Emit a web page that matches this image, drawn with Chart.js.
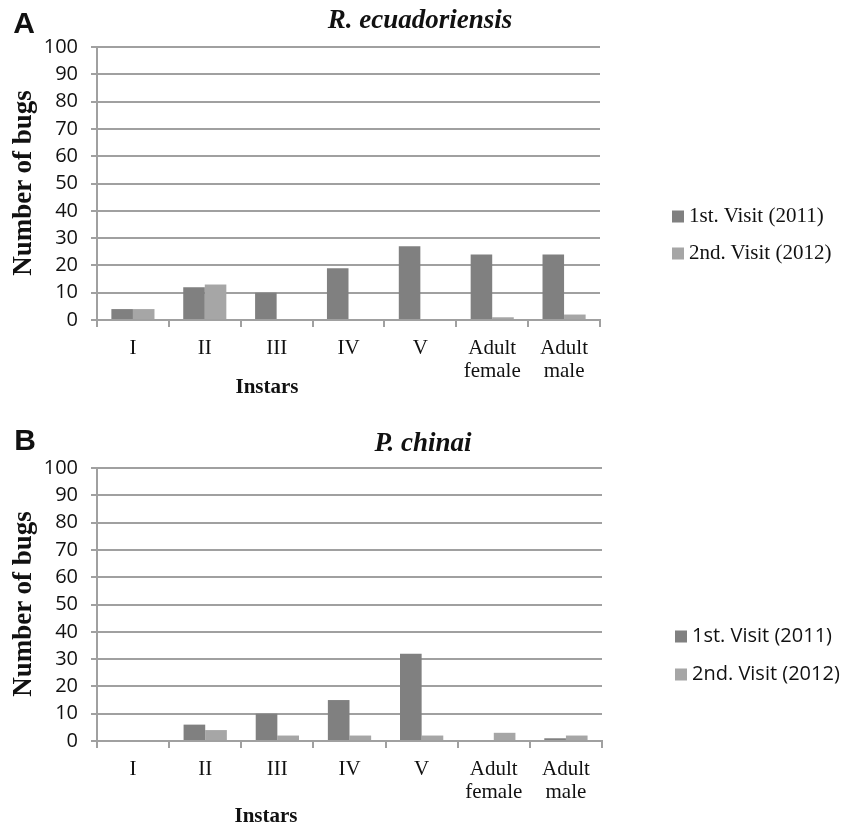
<!DOCTYPE html>
<html>
<head>
<meta charset="utf-8">
<script src="https://cdn.jsdelivr.net/npm/chart.js@4.4.1/dist/chart.umd.min.js"></script>
<style>
    body { margin: 0; background: #fff; }
    #page { position: relative; width: 845px; height: 823px; overflow: hidden; }
    .panel { position: absolute; left: 0; width: 845px; }
    .panel canvas { position: absolute; left: 0; top: 0; }
    .txt { position: absolute; white-space: nowrap; line-height: 1; color: #111; transform: translate(-50%, -50%); }
    .letter { font: bold 30px "Liberation Sans", Arial, sans-serif; }
    .title { font: italic bold 27px "Liberation Serif", "Times New Roman", serif; }
    .ytitle { font: bold 27px "Liberation Serif", "Times New Roman", serif; transform: translate(-50%, -50%) rotate(-90deg); }
    .xtitle { font: bold 21px "Liberation Serif", "Times New Roman", serif; }
    .leg { position: absolute; white-space: nowrap; line-height: 1; color: #111; transform: translateY(-50%); }
    .leg i { display: inline-block; width: 12px; height: 12px; margin-right: 5px; vertical-align: -1px; }
    .serif { font: 21px "Liberation Serif", "Times New Roman", serif; }
    .sans { font: 20px "Open Sans", sans-serif; }
</style>
</head>
<body>
<div id="page">
    <div class="panel" id="panelA" style="top:0;height:411px;">
        <canvas id="chartA" width="845" height="411"></canvas>
        <div class="txt letter" style="left:24px;top:23px;">A</div>
        <div class="txt title" style="left:420px;top:19px;">R. ecuadoriensis</div>
        <div class="txt ytitle" style="left:22px;top:183px;">Number of bugs</div>
        <div class="txt xtitle" style="left:267px;top:386px;">Instars</div>
        <div class="leg serif" id="legA1" style="left:672px;top:215px;"></div>
        <div class="leg serif" id="legA2" style="left:672px;top:252px;"></div>
    </div>
    <div class="panel" id="panelB" style="top:411px;height:412px;">
        <canvas id="chartB" width="845" height="412"></canvas>
        <div class="txt letter" style="left:25px;top:29px;">B</div>
        <div class="txt title" style="left:423px;top:31px;">P. chinai</div>
        <div class="txt ytitle" style="left:22px;top:193px;">Number of bugs</div>
        <div class="txt xtitle" style="left:266px;top:404px;">Instars</div>
        <div class="leg sans" id="legB1" style="left:675px;top:223px;"></div>
        <div class="leg sans" id="legB2" style="left:675px;top:261px;"></div>
    </div>
</div>
<script>
// categories (x axis)
var instars = ['I', 'II', 'III', 'IV', 'V', ['Adult', 'female'], ['Adult', 'male']];
var seriesNames = ['1st. Visit (2011)', '2nd. Visit (2012)'];
var seriesColors = ['#808080', '#a6a6a6'];

// A: R. ecuadoriensis
var visit1A = [4, 12, 10, 19, 27, 24, 24];
var visit2A = [4, 13, 0, 0, 0, 1, 2];

// B: P. chinai
var visit1B = [0, 6, 10, 15, 32, 0, 1];
var visit2B = [0, 4, 2, 2, 2, 3, 2];

var gridColor = '#a0a0a0';
var serifFont = '"Liberation Serif", "Times New Roman", serif';
var sansFont = '"Open Sans", sans-serif';

function makeLegend(id, i){
    document.getElementById(id).innerHTML =
        '<i style="background:' + seriesColors[i] + '"></i>' + seriesNames[i];
}

function makeBarChart(canvasId, v1, v2, pad, xHeight){
    var ctx = document.getElementById(canvasId);
    return new Chart(ctx, {
        type: 'bar',
        data: {
            labels: instars,
            datasets: [
                { label: seriesNames[0], data: v1, backgroundColor: seriesColors[0], borderWidth: 0 },
                { label: seriesNames[1], data: v2, backgroundColor: seriesColors[1], borderWidth: 0 }
            ]
        },
        options: {
            responsive: false,
            animation: false,
            events: [],
            categoryPercentage: 0.6,
            barPercentage: 1.0,
            layout: { padding: pad },
            plugins: {
                legend: { display: false },
                tooltip: { enabled: false }
            },
            scales: {
                x: {
                    grid: { drawOnChartArea: false, offset: true, tickLength: 7, color: gridColor, lineWidth: 2 },
                    border: { color: gridColor, width: 2 },
                    ticks: {
                        color: '#111',
                        padding: 10,
                        maxRotation: 0,
                        autoSkip: false,
                        font: { family: serifFont, size: 21, lineHeight: 1.1 }
                    },
                    afterFit: function(scale){ scale.height = xHeight; }
                },
                y: {
                    min: 0,
                    max: 100,
                    grid: { color: gridColor, lineWidth: 2, tickLength: 6 },
                    border: { color: gridColor, width: 2 },
                    ticks: {
                        stepSize: 10,
                        color: '#111',
                        padding: 13,
                        font: { family: sansFont, size: 20 }
                    },
                    afterFit: function(scale){ scale.width = 97; }
                }
            }
        }
    });
}

makeLegend('legA1', 0);
makeLegend('legA2', 1);
makeLegend('legB1', 0);
makeLegend('legB2', 1);

makeBarChart('chartA', visit1A, visit2A, { top: 47, right: 245, left: 0, bottom: 0 }, 91);
makeBarChart('chartB', visit1B, visit2B, { top: 57, right: 243, left: 0, bottom: 0 }, 82);
</script>
</body>
</html>
